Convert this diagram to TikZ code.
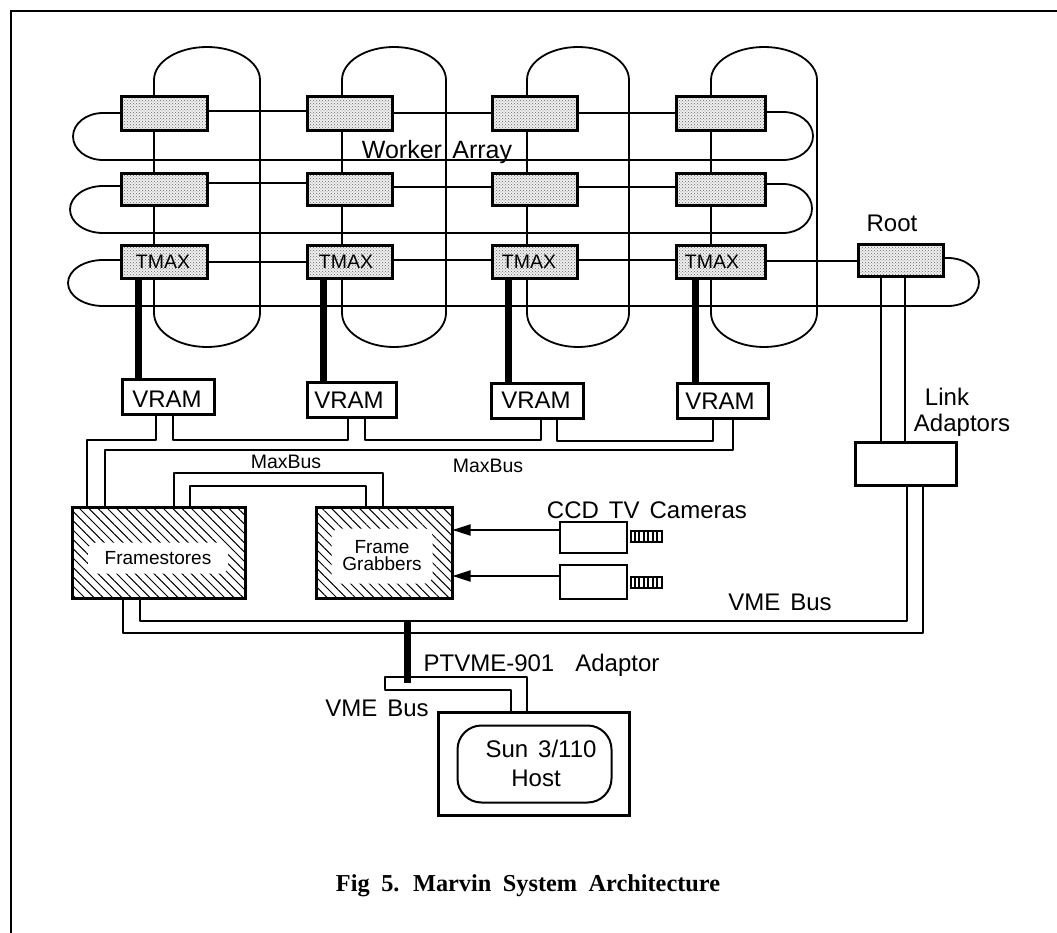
\documentclass[tikz,border=0pt]{standalone}
\usepackage{fontspec}
\setmainfont[WordSpace=1.5]{Liberation Sans}
\newfontfamily\capfont[WordSpace=1.9]{Liberation Serif}
\usetikzlibrary{arrows.meta,patterns,patterns.meta}
\tikzset{
  wire/.style={line width=1.8pt,line join=round},
  heavy/.style={line width=7pt},
  box/.style={draw,line width=3pt,inner sep=0pt,outer sep=0pt},
  procbox/.style={box,preaction={fill=black!6},pattern=crosshatch dots,pattern color=black!60},
  plainbox/.style={box,fill=white},
  hatchbox/.style={box,pattern={Lines[angle=-45,distance=6.6pt,line width=1pt]}},
  cambox/.style={draw,line width=2pt,inner sep=0pt,outer sep=0pt,fill=white},
  lensbox/.style={draw,line width=2pt,inner sep=0pt,outer sep=0pt,pattern={Lines[angle=90,distance=4.5pt,line width=2pt]}},
  hostinner/.style={draw,line width=2pt,rounded corners=24pt,inner sep=0pt,outer sep=0pt},
  clear/.style={fill=white,rounded corners=8pt,inner sep=0pt,align=center,font=\fontsize{19}{17}\selectfont},
  lab/.style={inner sep=0pt,align=center,font=\fontsize{24}{28}\selectfont},
  biglab/.style={inner sep=0pt,font=\fontsize{25}{28}\selectfont},
  smalllab/.style={inner sep=0pt,font=\fontsize{19.5}{22}\selectfont},
  tmaxlab/.style={inner sep=0pt,font=\fontsize{19.5}{22}\selectfont},
  vramlab/.style={inner sep=0pt,font=\fontsize{24}{26}\selectfont},
  captionlab/.style={inner sep=0pt,font=\capfont\bfseries\fontsize{24.3}{28}\selectfont},
  arr/.style={wire,-{Triangle[length=18pt,width=11pt]}},
}
\newcommand\bx[6]{%
  \pgfmathsetmacro\bw{#4-#2-3}\pgfmathsetmacro\bh{#5-#3-3}%
  \pgfmathsetmacro\bcx{(#2+#4)/2}\pgfmathsetmacro\bcy{(#3+#5)/2}%
  \node[#6,minimum width=\bw pt,minimum height=\bh pt] (#1) at (\bcx,\bcy) {};}
\newcommand\hc[3]{\draw[wire] (#1.east |- 0,#3) -- (#2.west |- 0,#3);}
\newcommand\vc[3]{\draw[wire] (#1.south -| #3,0) -- (#2.north -| #3,0);}
\newcommand\hv[3]{\draw[heavy] (#1.south -| #3,0) -- (#2.north -| #3,0);}
\begin{document}
\begin{tikzpicture}[x=1pt,y=-1pt]
\useasboundingbox (0,0) rectangle (1057,933);
\fill[white] (0,0) rectangle (1057,933);
% page frame, open on the right and at the bottom
\coordinate (fa) at (1057,11);
\coordinate (fb) at (11,11);
\coordinate (fc) at (11,933);
\draw[line width=2pt] (fa) -- (fb) -- (fc);

% processor boxes
\bx{a1}{120}{95}{209}{132}{procbox}
\bx{a2}{306}{95}{394}{132}{procbox}
\bx{a3}{491}{95}{579}{132}{procbox}
\bx{a4}{675}{95}{767}{132}{procbox}
\bx{b1}{120}{172}{209}{207}{procbox}
\bx{b2}{306}{172}{394}{207}{procbox}
\bx{b3}{491}{172}{579}{207}{procbox}
\bx{b4}{675}{172}{767}{207}{procbox}
\bx{c1}{120}{244}{209}{280}{procbox}
\bx{c2}{306}{244}{394}{280}{procbox}
\bx{c3}{491}{244}{579}{280}{procbox}
\bx{c4}{675}{244}{767}{280}{procbox}
\bx{root}{857}{243}{945}{278}{procbox}
% VRAM
\bx{v1}{121}{378}{216}{416}{plainbox}
\bx{v2}{306}{381}{398}{419}{plainbox}
\bx{v3}{490}{382}{585}{420}{plainbox}
\bx{v4}{676}{382}{770}{420}{plainbox}
% others
\bx{link}{854}{441}{958}{487}{plainbox}
\bx{fs}{71}{506}{247}{600}{hatchbox}
\bx{fg}{315}{506}{454}{600}{hatchbox}
\bx{cam1}{558}{520}{628}{554}{cambox}
\bx{cam2}{558}{563}{628}{600}{cambox}
\bx{lens1}{629}{529}{663}{543}{lensbox}
\bx{lens2}{629}{575}{663}{589}{lensbox}
\bx{host}{437}{711}{631}{817}{plainbox}
\bx{hin}{456}{724}{613}{804}{hostinner}

% horizontal links
\hc{a1}{a2}{111}\hc{a2}{a3}{113}\hc{a3}{a4}{113}
\hc{b1}{b2}{183}\hc{b2}{b3}{187}\hc{b3}{b4}{187}
\hc{c1}{c2}{262}\hc{c2}{c3}{260}\hc{c3}{c4}{260}\hc{c4}{root}{261}
% row loops
\draw[wire] (a1.west |- 0,113) -- (103,113) arc[start angle=270,end angle=90,x radius=30,y radius=23.5]
  -- (783,160) arc[start angle=90,end angle=-90,x radius=30,y radius=24] -- (a4.east |- 0,112);
\draw[wire] (b1.west |- 0,186) -- (103,186) arc[start angle=270,end angle=90,x radius=33,y radius=23.5]
  -- (783,233) arc[start angle=90,end angle=-90,x radius=29,y radius=24.5] -- (b4.east |- 0,184);
\draw[wire] (c1.west |- 0,260) -- (103,260) arc[start angle=270,end angle=90,x radius=35,y radius=23]
  -- (948,306) arc[start angle=90,end angle=-90,x radius=31,y radius=24] -- (root.east |- 0,258);
% column loops
\draw[wire] (a1.north -| 154,0) -- (154,80) arc[start angle=180,end angle=360,x radius=53,y radius=33]
  -- (260,313) arc[start angle=0,end angle=180,x radius=53,y radius=34] -- (c1.south -| 154,0);
\draw[wire] (a2.north -| 342,0) -- (342,80) arc[start angle=180,end angle=360,x radius=52,y radius=33]
  -- (446,313) arc[start angle=0,end angle=180,x radius=52,y radius=34] -- (c2.south -| 342,0);
\draw[wire] (a3.north -| 527,0) -- (527,80) arc[start angle=180,end angle=360,x radius=51,y radius=33]
  -- (629,313) arc[start angle=0,end angle=180,x radius=51,y radius=34] -- (c3.south -| 527,0);
\draw[wire] (a4.north -| 711,0) -- (711,80) arc[start angle=180,end angle=360,x radius=53,y radius=33]
  -- (817,313) arc[start angle=0,end angle=180,x radius=53,y radius=34] -- (c4.south -| 711,0);
\vc{a1}{b1}{154}\vc{b1}{c1}{154}
\vc{a2}{b2}{342}\vc{b2}{c2}{342}
\vc{a3}{b3}{527}\vc{b3}{c3}{527}
\vc{a4}{b4}{711}\vc{b4}{c4}{711}
% TMAX to VRAM
\hv{c1}{v1}{138}\hv{c2}{v2}{323}\hv{c3}{v3}{508}\hv{c4}{v4}{695}
% root to link adaptors
\vc{root}{link}{881}\vc{root}{link}{905}
% MaxBus chains
\draw[wire] (fs.north -| 87,0) -- (87,440) -- (156,440) -- (v1.south -| 156,0);
\draw[wire] (v1.south -| 173,0) -- (173,440) -- (348,440) -- (v2.south -| 348,0);
\draw[wire] (v2.south -| 365,0) -- (365,440) -- (541,440) -- (v3.south -| 541,0);
\draw[wire] (v3.south -| 557,0) -- (557,441) -- (713,441) -- (v4.south -| 713,0);
\draw[wire] (fs.north -| 105,0) -- (105,450) -- (733,450) -- (v4.south -| 733,0);
\draw[wire] (fs.north -| 174,0) -- (174,473) -- (383,473) -- (fg.north -| 383,0);
\draw[wire] (fs.north -| 190,0) -- (190,486) -- (366,486) -- (fg.north -| 366,0);
% VME bus
\draw[wire] (fs.south -| 140,0) -- (140,621) -- (907,621) -- (link.south -| 907,0);
\draw[wire] (fs.south -| 123,0) -- (123,633) -- (923,633) -- (link.south -| 923,0);
% adaptor
\coordinate (adtop) at (407,621);
\coordinate (adend) at (407,683);
\draw[heavy] (adtop) -- (adend);
\draw[wire] (host.north -| 511,0) -- (511,690) -- (385,690) -- (385,677) -- (527,677) -- (host.north -| 527,0);
% camera arrows
\draw[arr] (cam1.west |- 0,530) -- (fg.east |- 0,530);
\draw[arr] (cam2.west |- 0,576) -- (fg.east |- 0,576);

% inner white panels with text
\node[clear,minimum width=140pt,minimum height=31pt] (fstxt) at (158,558) {Framestores};
\node[clear,minimum width=101pt,minimum height=55pt] (fgtxt) at (382,556) {Frame\\Grabbers};
% labels
\node[biglab] (lworker) at (437,152) {Worker Array};
\node[tmaxlab] (t1) at (163,262) {TMAX};
\node[tmaxlab] (t2) at (346,262) {TMAX};
\node[tmaxlab] (t3) at (529,262) {TMAX};
\node[tmaxlab] (t4) at (712,262) {TMAX};
\node[vramlab] (vt1) at (167,399) {VRAM};
\node[vramlab] (vt2) at (349,400) {VRAM};
\node[vramlab] (vt3) at (536,400) {VRAM};
\node[vramlab] (vt4) at (720,401) {VRAM};
\node[lab] (lroot) at (892,223) {Root};
\node[lab] (llink) at (947,397) {Link};
\node[lab] (ladapt) at (962,425) {Adaptors};
\node[smalllab] (mb1) at (286,462) {MaxBus};
\node[smalllab] (mb2) at (488,466) {MaxBus};
\node[lab] (lccd) at (647,510) {CCD TV Cameras};
\node[lab] (lvme1) at (780,602) {VME Bus};
\node[lab] (lpt) at (541.5,665) {PTVME-901\hspace{21pt}Adaptor};
\node[lab] (lvme2) at (377,708) {VME Bus};
\node[lab] (lsun) at (541,749) {Sun 3/110};
\node[lab] (lhost) at (536,778) {Host};
\node[captionlab] (caption) at (528,886) {Fig 5. Marvin System Architecture};
\end{tikzpicture}
\end{document}
